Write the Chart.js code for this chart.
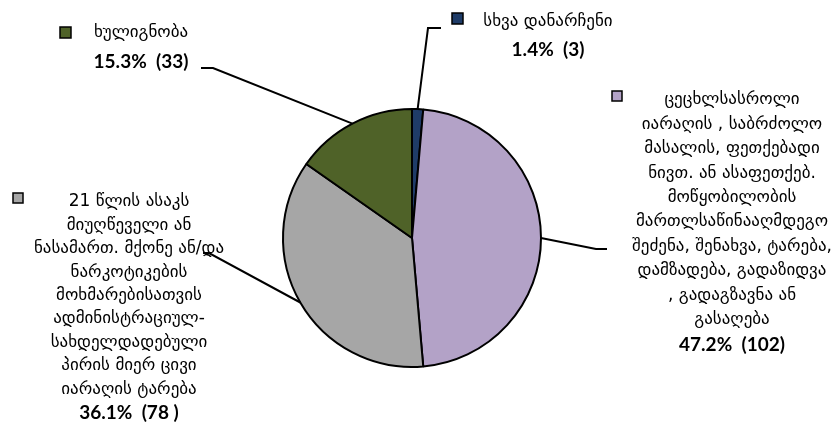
<!DOCTYPE html>
<html>
<head>
<meta charset="utf-8">
<script src="https://cdn.jsdelivr.net/npm/chart.js@4.4.1/dist/chart.umd.min.js"></script>
<style>
  html, body { margin: 0; padding: 0; background: #ffffff; }
  #wrap { width: 839px; height: 430px; position: relative; }
</style>
</head>
<body>
<div id="wrap"><canvas id="c" width="839" height="430"></canvas></div>
<script>
// ---- data ----
const categories = [
  ['სხვა დანარჩენი'],
  ['ცეცხლსასროლი', 'იარაღის , საბრძოლო', 'მასალის, ფეთქებადი', 'ნივთ. ან ასაფეთქებ.', 'მოწყობილობის', 'მართლსაწინააღმდეგო', 'შეძენა, შენახვა, ტარება,', 'დამზადება, გადაზიდვა', ', გადაგზავნა ან', 'გასაღება'],
  ['21 წლის ასაკს', 'მიუღწეველი ან', 'ნასამართ. მქონე ან/და', 'ნარკოტიკების', 'მოხმარებისათვის', 'ადმინისტრაციულ-', 'სახდელდადებული', 'პირის მიერ ცივი', 'იარაღის ტარება'],
  ['ხულიგნობა']
];
const counts = [3, 102, 78, 33];
const valueLabels = ['1.4%  (3)', '47.2%  (102)', '36.1%  (78 )', '15.3%  (33)'];
const colors = ['#1F3C68', '#B3A2C7', '#A6A6A6', '#4F6228'];

// label layout (positions of text blocks)
const labelLayout = [
  { sq: [452, 13, 11], textX: 548, firstY: 22, step: 24, boldY: 50,
    leader: [[428, 28], [441, 28]] },
  { sq: [612, 91, 10], textX: 732, firstY: 100, step: 24.4, boldY: 345,
    leader: [[596, 249], [607, 249]] },
  { sq: [13, 193, 10], textX: 129, firstY: 202, step: 23.4, boldY: 413,
    leader: [[209, 253], [203, 253]] },
  { sq: [60, 27, 11], textX: 141, firstY: 33, step: 24, boldY: 62,
    leader: [[213, 68], [201, 68]] }
];

const GEO_FONT = '17px "DejaVu Sans", "Noto Sans", sans-serif';
const BOLD_FONT = 'bold 19px "Lato", "Open Sans", sans-serif';

const labelPlugin = {
  id: 'labelPlugin',
  afterDraw(chart) {
    const ctx = chart.ctx;
    const meta = chart.getDatasetMeta(0);
    meta.data.forEach((arc, i) => {
      const p = arc.getProps(['x', 'y', 'startAngle', 'endAngle', 'outerRadius'], true);
      const mid = (p.startAngle + p.endAngle) / 2;
      const ax = p.x + Math.cos(mid) * p.outerRadius;
      const ay = p.y + Math.sin(mid) * p.outerRadius;
      const L = labelLayout[i];
      ctx.save();
      ctx.strokeStyle = '#000';
      ctx.lineWidth = 2;
      ctx.beginPath();
      ctx.moveTo(ax, ay);
      L.leader.forEach(pt => ctx.lineTo(pt[0], pt[1]));
      ctx.stroke();
      const [sx, sy, ss] = L.sq;
      ctx.fillStyle = colors[i];
      ctx.fillRect(sx, sy, ss, ss);
      ctx.lineWidth = 1.5;
      ctx.strokeRect(sx, sy, ss, ss);
      ctx.fillStyle = '#000';
      ctx.textAlign = 'center';
      ctx.textBaseline = 'middle';
      ctx.font = GEO_FONT;
      categories[i].forEach((line, k) => {
        ctx.fillText(line, L.textX, L.firstY + k * L.step);
      });
      ctx.font = BOLD_FONT;
      ctx.fillText(valueLabels[i], L.textX, L.boldY);
      ctx.restore();
    });
  }
};

new Chart(document.getElementById('c'), {
  type: 'pie',
  data: {
    labels: categories.map(c => c.join(' ')),
    datasets: [{
      data: counts,
      backgroundColor: colors,
      borderColor: '#000000',
      borderWidth: 2
    }]
  },
  options: {
    responsive: false,
    animation: false,
    rotation: 0,
    layout: { padding: { left: 282, right: 297, top: 108, bottom: 62 } },
    plugins: {
      legend: { display: false },
      tooltip: { enabled: false }
    }
  },
  plugins: [labelPlugin]
});
</script>
</body>
</html>
